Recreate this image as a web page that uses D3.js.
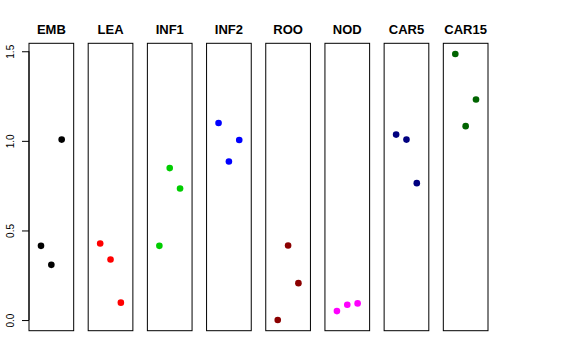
<!DOCTYPE html>
<html lang="en">
<head>
<meta charset="UTF-8">
<title>Panels</title>
<script src="https://d3js.org/d3.v7.min.js"></script>
<style>
  body { margin: 0; background: #fff; }
  text { font-family: "Liberation Sans", Arial, sans-serif; }
</style>
</head>
<body>
<svg id="main" width="576" height="360"></svg>
<script>
const groups = ["EMB", "LEA", "INF1", "INF2", "ROO", "NOD", "CAR5", "CAR15"]
const colors = ["#000000", "#ff0000", "#00cd00", "#0000ff", "#8b0000", "#ff00ff", "#000080", "#006400"]
// three values per group, plotted at x = 1, 2, 3
const EMB = [0.414, 0.308, 1.007]
const LEA = [0.427, 0.338, 0.097]
const INF1 = [0.414, 0.848, 0.734]
const INF2 = [1.100, 0.885, 1.005]
const ROO = [0.000, 0.416, 0.206]
const NOD = [0.050, 0.085, 0.093]
const CAR5 = [1.035, 1.007, 0.764]
const CAR15 = [1.485, 1.082, 1.231]
const yTicks = [0, 0.5, 1, 1.5]

const series = [EMB, LEA, INF1, INF2, ROO, NOD, CAR5, CAR15]
const svg = d3.select("#main")

const boxTop = 43.3, boxBottom = 330.7
// R style 4% extension of the data range
const yr = [0, 1.485], ext = (yr[1] - yr[0]) * 0.04
const y = d3.scaleLinear().domain([yr[0] - ext, yr[1] + ext]).range([boxBottom, boxTop])

const band = d3.scaleBand().domain(groups).range([29, 488]).paddingInner(0.245)

groups.forEach((g, i) => {
    const x0 = band(g), w = band.bandwidth()
    const x = d3.scaleLinear().domain([-0.16, 4.16]).range([x0, x0 + w])
    const panel = svg.append("g")
    panel.append("rect")
        .attr("x", x0).attr("y", boxTop)
        .attr("width", w).attr("height", boxBottom - boxTop)
        .attr("fill", "none").attr("stroke", "#000").attr("stroke-width", 1)
    panel.append("text")
        .attr("x", x0 + w / 2).attr("y", 34)
        .attr("text-anchor", "middle")
        .attr("font-weight", "bold").attr("font-size", 13)
        .text(g)
    panel.selectAll("circle")
        .data(series[i])
        .join("circle")
        .attr("cx", (d, j) => x(j + 1))
        .attr("cy", d => y(d))
        .attr("r", 3.3)
        .attr("fill", colors[i])
})

const ax = svg.append("g")
    .attr("transform", "translate(" + band(groups[0]) + ",0)")
    .call(d3.axisLeft(y).tickValues(yTicks).tickSize(7).tickSizeOuter(0).tickFormat(d3.format(".1f")))
ax.select(".domain").remove()
ax.append("line")
    .attr("x1", 0).attr("x2", 0)
    .attr("y1", y(yTicks[0])).attr("y2", y(yTicks[yTicks.length - 1]))
    .attr("stroke", "#000")
ax.selectAll(".tick text")
    .attr("font-size", 10)
    .attr("font-family", "Liberation Sans, Arial, sans-serif")
    .attr("fill", "#000")
    .attr("text-anchor", "middle")
    .attr("x", 0).attr("dy", 0)
    .attr("transform", "translate(-15.5,0) rotate(-90)")
</script>
</body>
</html>
